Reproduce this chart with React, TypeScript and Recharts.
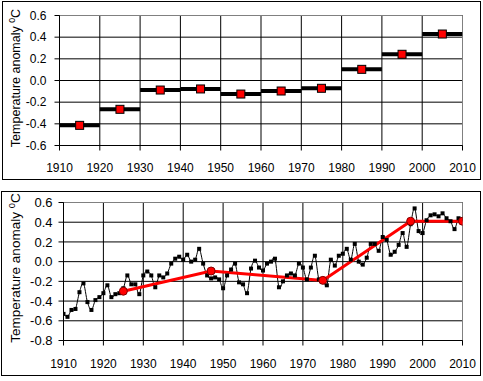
import React from 'react';
import {
  ComposedChart,
  Line,
  XAxis,
  YAxis,
  CartesianGrid,
  ReferenceLine,
} from 'recharts';

const FONT = '"Liberation Sans", Arial, sans-serif';

// decade averages (top panel)
const decadeStarts = [1910, 1920, 1930, 1940, 1950, 1960, 1970, 1980, 1990, 2000];
const decadeMeans = [-0.414, -0.266, -0.088, -0.078, -0.125, -0.097, -0.072, 0.103, 0.242, 0.429];

// annual anomalies 1910-2010 (bottom panel)
const years = Array.from({ length: 101 }, (_, i) => 1910 + i);
const anomalies = [
  -0.53, -0.56, -0.49, -0.48, -0.31, -0.22, -0.41, -0.49, -0.39, -0.36,
  -0.32, -0.24, -0.36, -0.33, -0.32, -0.27, -0.14, -0.23, -0.23, -0.33,
  -0.14, -0.1, -0.14, -0.26, -0.14, -0.16, -0.12, -0.02, 0.03, 0.05,
  0.02, 0.07, 0.0, 0.02, 0.13, -0.02, -0.14, -0.17, -0.16, -0.18,
  -0.27, -0.14, -0.08, -0.02, -0.21, -0.23, -0.32, -0.07, 0.01, -0.06,
  -0.09, -0.02, 0.0, 0.03, -0.26, -0.2, -0.14, -0.12, -0.14, -0.02,
  -0.06, -0.18, -0.06, 0.06, -0.18, -0.19, -0.24, 0.02, -0.04, 0.06,
  0.08, 0.13, 0.02, 0.18, 0.0, -0.03, 0.04, 0.18, 0.18, 0.11,
  0.25, 0.22, 0.07, 0.1, 0.17, 0.29, 0.15, 0.38, 0.54, 0.31,
  0.29, 0.42, 0.47, 0.48, 0.46, 0.49, 0.44, 0.41, 0.33, 0.44,
  0.43,
];

// trend break points (red line)
const trendYears = [1925, 1947, 1975, 1997, 2010];
const trendValues = [-0.3, -0.095, -0.19, 0.41, 0.41];

const xTicks = [1910, 1920, 1930, 1940, 1950, 1960, 1970, 1980, 1990, 2000, 2010];
const yTicksTop = [-0.6, -0.4, -0.2, 0, 0.2, 0.4, 0.6];
const yTicksBottom = [-0.8, -0.6, -0.4, -0.2, 0, 0.2, 0.4, 0.6];

const segData: { x: number; y: number | null }[] = [];
decadeStarts.forEach((s, i) => {
  segData.push({ x: s, y: decadeMeans[i] });
  segData.push({ x: s + 10, y: decadeMeans[i] });
  segData.push({ x: s + 10, y: null });
});
const markerData = decadeStarts.map((s, i) => ({ x: s + 5, y: decadeMeans[i] }));
const annualData = years.map((x, i) => ({ x, y: anomalies[i] }));
const trendData = trendYears.map((x, i) => ({ x, y: trendValues[i] }));

// Excel-like smoothed line (Catmull-Rom through every point)
function smoothCurve(context: any) {
  let pts: number[][] = [];
  return {
    areaStart() {},
    areaEnd() {},
    lineStart() {
      pts = [];
    },
    point(x: number, y: number) {
      pts.push([+x, +y]);
    },
    lineEnd() {
      const n = pts.length;
      if (!n) return;
      context.moveTo(pts[0][0], pts[0][1]);
      for (let i = 0; i < n - 1; i++) {
        const p0 = pts[i - 1] || pts[i];
        const p1 = pts[i];
        const p2 = pts[i + 1];
        const p3 = pts[i + 2] || p2;
        context.bezierCurveTo(
          p1[0] + (p2[0] - p0[0]) / 6,
          p1[1] + (p2[1] - p0[1]) / 6,
          p2[0] - (p3[0] - p1[0]) / 6,
          p2[1] - (p3[1] - p1[1]) / 6,
          p2[0],
          p2[1]
        );
      }
    },
  };
}

const RedSquare = (props: any) => {
  const { cx, cy, index } = props;
  if (cx == null || cy == null) return <g key={`rs-${index}`} />;
  return (
    <rect key={`rs-${index}`} x={cx - 4} y={cy - 4} width={8} height={8} fill="#ff0000" stroke="#000" strokeWidth={1} />
  );
};

const BlackDot = (props: any) => {
  const { cx, cy, index } = props;
  if (cx == null || cy == null) return <g key={`bd-${index}`} />;
  return <rect key={`bd-${index}`} x={cx - 2} y={cy - 2} width={4} height={4} fill="#000" />;
};

const RedDot = (props: any) => {
  const { cx, cy, index } = props;
  if (cx == null || cy == null) return <g key={`rd-${index}`} />;
  return <circle key={`rd-${index}`} cx={cx} cy={cy} r={4} fill="#ff0000" stroke="#800000" strokeWidth={1} />;
};

const YTitle = (props: any) => {
  const { viewBox, size, shift } = props;
  const x = 20;
  const y = viewBox.y + viewBox.height / 2 + shift;
  return (
    <text
      x={x}
      y={y}
      transform={`rotate(-90, ${x}, ${y})`}
      textAnchor="middle"
      fontSize={size}
      fontFamily={FONT}
      fill="#000"
    >
      Temperature anomaly{' '}
      <tspan fontSize={size * 0.7} dy={-size * 0.4}>0</tspan>
      <tspan dy={size * 0.4}>C</tspan>
    </text>
  );
};

const tickStyle = { fontSize: 12, fill: '#000', fontFamily: FONT };
const fmt = (v: number) => v.toFixed(1);

function DecadeChart() {
  return (
    <ComposedChart width={483} height={180} margin={{ top: 15.5, right: 20.5, left: 0, bottom: 0 }}>
      <CartesianGrid stroke="#000" strokeWidth={1} />
      <XAxis
        type="number"
        dataKey="x"
        domain={[1910, 2010]}
        ticks={xTicks}
        interval={0}
        allowDataOverflow
        height={34.5}
        tickSize={5}
        tickMargin={13}
        tick={tickStyle}
        axisLine={{ stroke: '#000' }}
        tickLine={{ stroke: '#000' }}
      />
      <YAxis
        type="number"
        domain={[-0.6, 0.6]}
        ticks={yTicksTop}
        interval={0}
        allowDataOverflow
        width={59.5}
        tickSize={5}
        tickMargin={8}
        tickFormatter={fmt}
        tick={tickStyle}
        axisLine={{ stroke: '#000' }}
        tickLine={{ stroke: '#000' }}
        label={<YTitle size={12.5} shift={-2.5} />}
      />
      <ReferenceLine y={0.6} stroke="#808080" />
      <ReferenceLine x={2010} stroke="#808080" />
      <Line
        data={segData}
        dataKey="y"
        type="linear"
        stroke="#000"
        strokeWidth={4}
        dot={false}
        activeDot={false}
        connectNulls={false}
        isAnimationActive={false}
      />
      <Line
        data={markerData}
        dataKey="y"
        stroke="none"
        dot={RedSquare}
        activeDot={false}
        isAnimationActive={false}
      />
    </ComposedChart>
  );
}

function AnnualChart() {
  return (
    <ComposedChart width={483} height={190} margin={{ top: 12.5, right: 20.5, left: 0, bottom: 0 }}>
      <CartesianGrid stroke="#000" strokeWidth={1} />
      <XAxis
        type="number"
        dataKey="x"
        domain={[1910, 2010]}
        ticks={xTicks}
        interval={0}
        allowDataOverflow
        height={39.5}
        tickSize={5}
        tickMargin={14}
        tick={tickStyle}
        axisLine={{ stroke: '#000' }}
        tickLine={{ stroke: '#000' }}
      />
      <YAxis
        type="number"
        domain={[-0.8, 0.6]}
        ticks={yTicksBottom}
        interval={0}
        allowDataOverflow
        width={63.5}
        tickSize={5}
        tickMargin={6}
        tickFormatter={fmt}
        tick={{ ...tickStyle, fontSize: 13 }}
        axisLine={{ stroke: '#000' }}
        tickLine={{ stroke: '#000' }}
        label={<YTitle size={13.5} shift={-3.5} />}
      />
      <ReferenceLine y={0.6} stroke="#808080" />
      <ReferenceLine x={2010} stroke="#808080" />
      <Line
        data={annualData}
        dataKey="y"
        type={smoothCurve as any}
        stroke="#000"
        strokeWidth={1}
        dot={BlackDot}
        activeDot={false}
        isAnimationActive={false}
      />
      <Line
        data={trendData}
        dataKey="y"
        type="linear"
        stroke="#ff0000"
        strokeWidth={3}
        dot={RedDot}
        activeDot={false}
        isAnimationActive={false}
      />
    </ComposedChart>
  );
}

export default function App() {
  return (
    <div
      style={{
        position: 'absolute',
        left: 0,
        top: 0,
        width: 483,
        height: 381,
        background: '#fff',
        fontFamily: FONT,
      }}
    >
      <div style={{ position: 'absolute', left: 2, top: 1, width: 479, height: 179, border: '1px solid #000', boxSizing: 'border-box' }} />
      <div style={{ position: 'absolute', left: 1, top: 191, width: 480, height: 185, border: '1px solid #000', boxSizing: 'border-box' }} />
      <div style={{ position: 'absolute', left: 0, top: 0 }}>
        <DecadeChart />
      </div>
      <div style={{ position: 'absolute', left: 0, top: 190 }}>
        <AnnualChart />
      </div>
    </div>
  );
}
